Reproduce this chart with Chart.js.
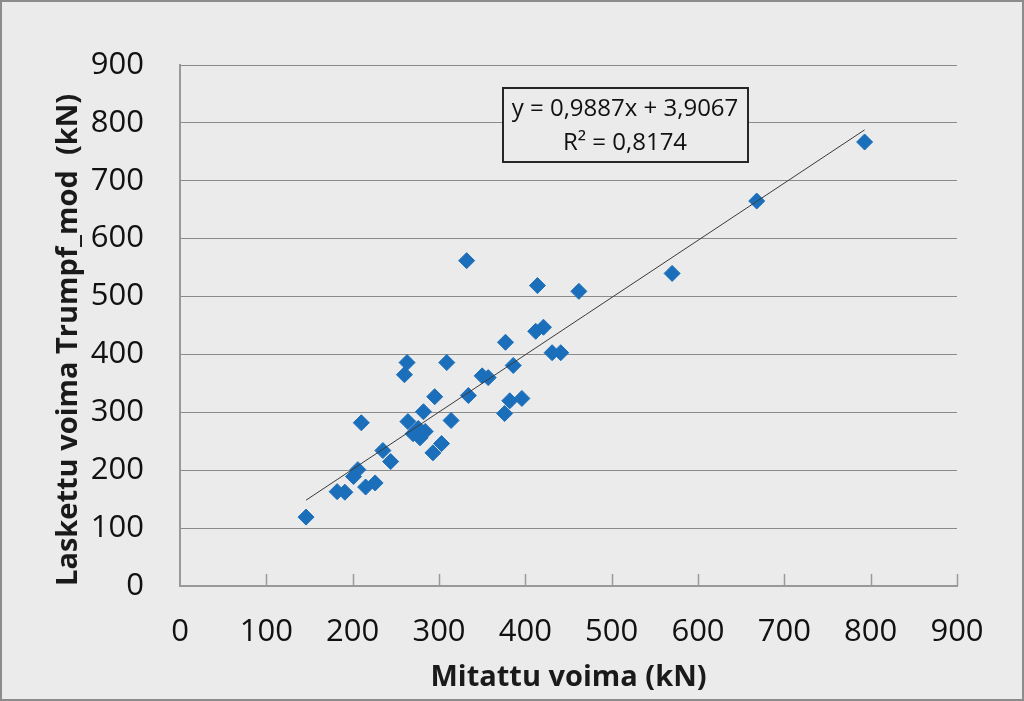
<!DOCTYPE html>
<html>
<head>
<meta charset="utf-8">
<script src="https://cdn.jsdelivr.net/npm/chart.js@4.4.1/dist/chart.umd.min.js"></script>
<style>
	html, body { margin: 0; padding: 0; background: #ebebeb; }
	canvas { display: block; }
</style>
</head>
<body>
<canvas id="graphicForce" width="1024" height="701"></canvas>
<script>
// Mitattu voima (kN) vs Laskettu voima Trumpf_mod (kN)
var measured = [146, 182, 191, 201, 206, 215, 226, 210, 235, 244, 260, 263, 309, 295, 264, 282, 314, 276, 278, 284, 270,
	293, 303, 334, 350, 357, 332, 414, 462, 412, 421, 377, 386, 431, 441, 376, 382, 396, 570, 668, 793];
var calculated = [119, 163, 162, 189, 201, 171, 178, 282, 234, 215, 365, 386, 386, 327, 284, 301, 286, 272, 256, 267, 263,
	230, 246, 329, 363, 360, 562, 519, 509, 440, 447, 421, 381, 403, 403, 298, 320, 324, 540, 665, 767];

var trendSlope = 0.9887;
var trendIntercept = 3.9067;
var equationLines = ['y = 0,9887x + 3,9067', 'R\u00b2 = 0,8174'];

var xTitle = 'Mitattu voima (kN)';
var yTitle = 'Laskettu voima Trumpf_mod  (kN)';
var axisMin = 0;
var axisMax = 900;
var axisStep = 100;

var FONT = '"Open Sans", "DejaVu Sans", sans-serif';

var points = measured.map(function(x, i) {
	return { x: x, y: calculated[i] };
});

var xLow = Math.min.apply(null, measured);
var xHigh = Math.max.apply(null, measured);
var trend = [
	{ x: xLow, y: trendSlope * xLow + trendIntercept },
	{ x: xHigh, y: trendSlope * xHigh + trendIntercept }
];

var frame = {
	id: 'frame',
	beforeDraw: function(chart) {
		var ctx = chart.ctx;
		ctx.save();
		ctx.fillStyle = '#ebebeb';
		ctx.fillRect(0, 0, chart.width, chart.height);
		ctx.strokeStyle = '#8c8c8c';
		ctx.lineWidth = 2;
		ctx.strokeRect(1, 1, chart.width - 2, chart.height - 2);
		ctx.restore();
	},
	afterDraw: function(chart) {
		var ctx = chart.ctx;
		var xScale = chart.scales.x;
		var bottom = chart.chartArea.bottom;
		ctx.save();
		// short tick marks pointing into the plot
		ctx.strokeStyle = '#999999';
		ctx.lineWidth = 1.5;
		xScale.ticks.forEach(function(t) {
			if (t.value === axisMin) return;
			var px = Math.round(xScale.getPixelForValue(t.value)) + 0.5;
			ctx.beginPath();
			ctx.moveTo(px, bottom);
			ctx.lineTo(px, bottom - 12);
			ctx.stroke();
		});
		// equation box
		ctx.fillStyle = '#ebebeb';
		ctx.fillRect(503, 88, 245, 74);
		ctx.strokeStyle = '#262626';
		ctx.lineWidth = 2;
		ctx.strokeRect(503, 88, 245, 74);
		ctx.fillStyle = '#111111';
		ctx.font = '24px ' + FONT;
		ctx.textAlign = 'center';
		ctx.textBaseline = 'middle';
		ctx.fillText(equationLines[0], 625, 109);
		ctx.fillText(equationLines[1], 625, 143);
		ctx.restore();
	}
};

var ctx = document.getElementById('graphicForce').getContext('2d');

var graphicForce = new Chart(ctx, {
	type: 'scatter',
	data: {
		datasets: [{
			label: 'Laskettu',
			data: points,
			pointStyle: 'rectRot',
			pointRadius: 8,
			backgroundColor: '#1b6fba',
			borderColor: '#1b6fba',
			borderWidth: 1,
			order: 2
		},
		{
			label: 'Trendi',
			type: 'line',
			data: trend,
			borderColor: '#3a3a3a',
			borderWidth: 1,
			pointRadius: 0,
			fill: false,
			order: 1
		}]
	},
	plugins: [frame],
	options: {
		responsive: false,
		animation: false,
		devicePixelRatio: 1,
		layout: { padding: { top: 65, right: 67, bottom: 0, left: 0 } },
		plugins: {
			legend: { display: false },
			tooltip: { enabled: false }
		},
		scales: {
			x: {
				type: 'linear',
				min: axisMin,
				max: axisMax,
				afterFit: function(scale) { scale.height = 115; },
				ticks: {
					stepSize: axisStep,
					padding: 28,
					color: '#111111',
					font: { family: FONT, size: 31 }
				},
				grid: { drawOnChartArea: false, drawTicks: false },
				border: { display: true, color: '#999999', width: 2 },
				title: {
					display: true,
					text: xTitle,
					color: '#1a1a1a',
					font: { family: FONT, size: 29, weight: 'bold' },
					padding: { top: 0, bottom: 6 }
				}
			},
			y: {
				type: 'linear',
				min: axisMin,
				max: axisMax,
				afterFit: function(scale) { scale.width = 180; },
				ticks: {
					stepSize: axisStep,
					padding: 36,
					color: '#111111',
					font: { family: FONT, size: 31 }
				},
				grid: { color: '#8a8a8a', lineWidth: 1, drawTicks: false },
				border: { display: true, color: '#999999', width: 2 },
				title: {
					display: true,
					text: yTitle,
					align: 'start',
					color: '#1a1a1a',
					font: { family: FONT, size: 29, weight: 'bold' },
					padding: { top: 51, bottom: 0 }
				}
			}
		}
	}
});
</script>
</body>
</html>
